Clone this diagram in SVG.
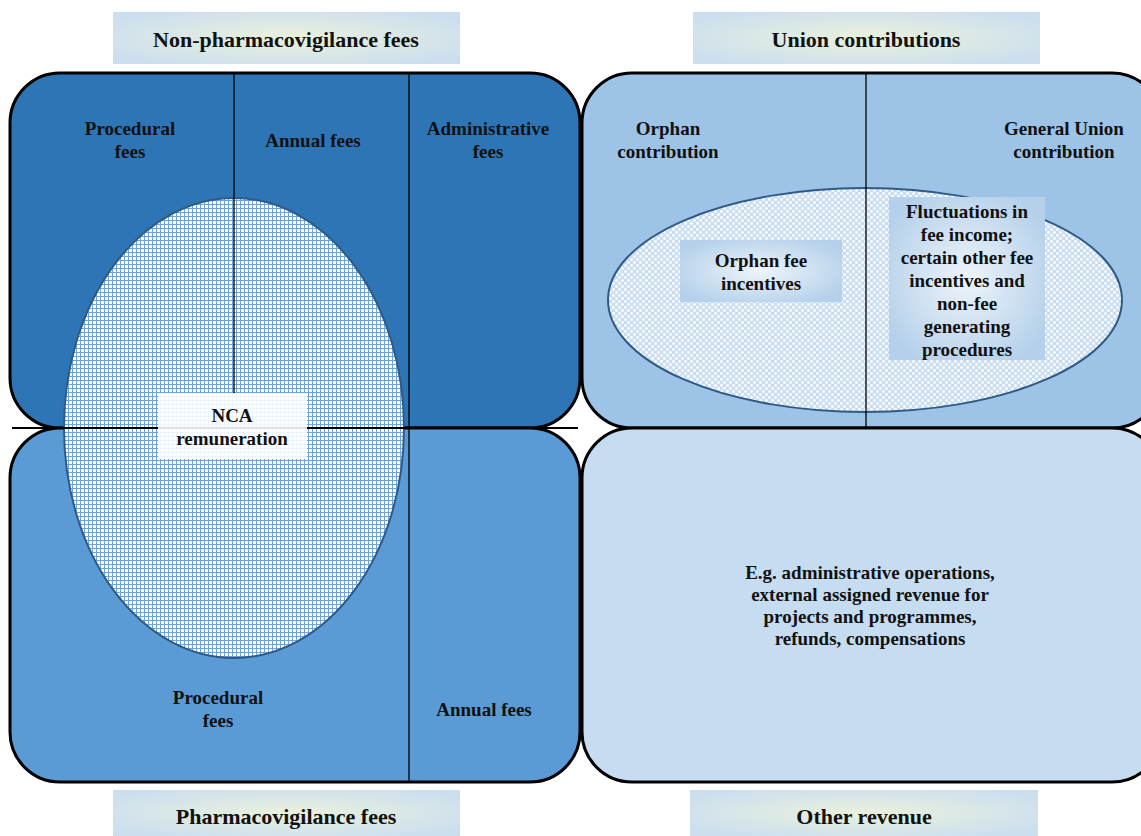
<svg xmlns="http://www.w3.org/2000/svg" width="1141" height="836" viewBox="0 0 1141 836">
<style>
.t{font-weight:700;font-size:19px;fill:#111;text-anchor:middle}
.h{font-size:22px}
.box{stroke:#000;stroke-width:3}
.div{stroke:#000;stroke-width:1.3}
.ell{stroke:#2F5A86;stroke-width:2}
</style>
<defs>
<radialGradient id="hdr" cx="0.5" cy="0.5" r="0.6">
<stop offset="0" stop-color="#EAF1DC"/>
<stop offset="1" stop-color="#CCDFEF"/>
</radialGradient>
<radialGradient id="lbl" cx="0.5" cy="0.5" r="0.6">
<stop offset="0" stop-color="#EEF4FA"/>
<stop offset="1" stop-color="#B4D0EA"/>
</radialGradient>
<pattern id="grid" width="4" height="4" patternUnits="userSpaceOnUse">
<rect width="4" height="4" fill="#FFFFFF"/>
<path d="M0 0.5H4M0.5 0V4" stroke="#6FA4DA" stroke-width="1"/>
</pattern>
<pattern id="dots" width="6" height="6" patternUnits="userSpaceOnUse">
<rect width="6" height="6" fill="#C9DDF1"/>
<circle cx="1.5" cy="1.5" r="1.4" fill="#FFFFFF"/>
<circle cx="4.5" cy="4.5" r="1.4" fill="#FFFFFF"/>
</pattern>
</defs>

<g font-family="'Liberation Serif', 'Times New Roman', Times, serif">
<g id="header-nonpv"><rect x="113" y="12" width="347" height="52" fill="url(#hdr)"/><text class="t h" x="286" y="47">Non-pharmacovigilance fees</text></g>
<g id="header-union"><rect x="693" y="12" width="347" height="52" fill="url(#hdr)"/><text class="t h" x="866" y="47">Union contributions</text></g>
<g id="header-pv"><rect x="113" y="790" width="347" height="46" fill="url(#hdr)"/><text class="t h" x="286" y="824">Pharmacovigilance fees</text></g>
<g id="header-other"><rect x="690" y="790" width="348" height="46" fill="url(#hdr)"/><text class="t h" x="864" y="824">Other revenue</text></g>

<g id="box-nonpv"><rect class="box" x="10" y="73" width="570" height="355" rx="50" fill="#2E75B6"/></g>
<g id="box-pv"><rect class="box" x="10" y="428" width="570" height="354" rx="50" fill="#5B9BD5"/></g>
<g id="box-union"><rect class="box" x="582" y="73" width="580" height="355" rx="50" fill="#9DC3E6"/></g>
<g id="box-other"><rect class="box" x="582" y="428" width="580" height="354" rx="50" fill="#C6DCF0"/></g>

<g id="ellipse-nca"><ellipse class="ell" cx="234" cy="428" rx="170" ry="230" fill="url(#grid)"/></g>
<g id="ellipse-union"><ellipse class="ell" cx="865" cy="300" rx="257" ry="112" fill="url(#dots)"/></g>

<g id="connectors">
<line class="div" x1="234" y1="74" x2="234" y2="394"/>
<line class="div" x1="409" y1="74" x2="409" y2="781"/>
<line class="div" x1="866" y1="74" x2="866" y2="427"/>
<line stroke="#000" stroke-width="2" x1="12" y1="428" x2="578" y2="428"/>
</g>

<g id="nca"><rect x="158" y="393" width="149" height="66" fill="#FFFFFF" fill-opacity="0.88"/><text class="t" x="232" y="422">NCA</text><text class="t" x="232" y="445">remuneration</text></g>
<g id="proc-top"><text class="t" x="130" y="135">Procedural</text><text class="t" x="130" y="158">fees</text></g>
<g id="annual-top"><text class="t" x="313" y="147">Annual fees</text></g>
<g id="admin-top"><text class="t" x="488" y="135">Administrative</text><text class="t" x="488" y="158">fees</text></g>
<g id="proc-bot"><text class="t" x="218" y="704">Procedural</text><text class="t" x="218" y="727">fees</text></g>
<g id="annual-bot"><text class="t" x="484" y="716">Annual fees</text></g>
<g id="orphan-contrib"><text class="t" x="668" y="135">Orphan</text><text class="t" x="668" y="158">contribution</text></g>
<g id="general-contrib"><text class="t" x="1064" y="135">General Union</text><text class="t" x="1064" y="158">contribution</text></g>
<g id="orphan-fee"><rect x="680" y="240" width="162" height="62" fill="url(#lbl)"/><text class="t" x="761" y="267">Orphan fee</text><text class="t" x="761" y="290">incentives</text></g>
<g id="fluct"><rect x="889" y="197" width="156" height="163" fill="url(#lbl)"/>
<text class="t" x="967" y="218">Fluctuations in</text><text class="t" x="967" y="241">fee income;</text><text class="t" x="967" y="264">certain other fee</text><text class="t" x="967" y="287">incentives and</text><text class="t" x="967" y="310">non-fee</text><text class="t" x="967" y="333">generating</text><text class="t" x="967" y="356">procedures</text></g>
<g id="other"><text class="t" x="870" y="579">E.g. administrative operations,</text><text class="t" x="870" y="601">external assigned revenue for</text><text class="t" x="870" y="623">projects and programmes,</text><text class="t" x="870" y="645">refunds, compensations</text></g>
</g>
</svg>
